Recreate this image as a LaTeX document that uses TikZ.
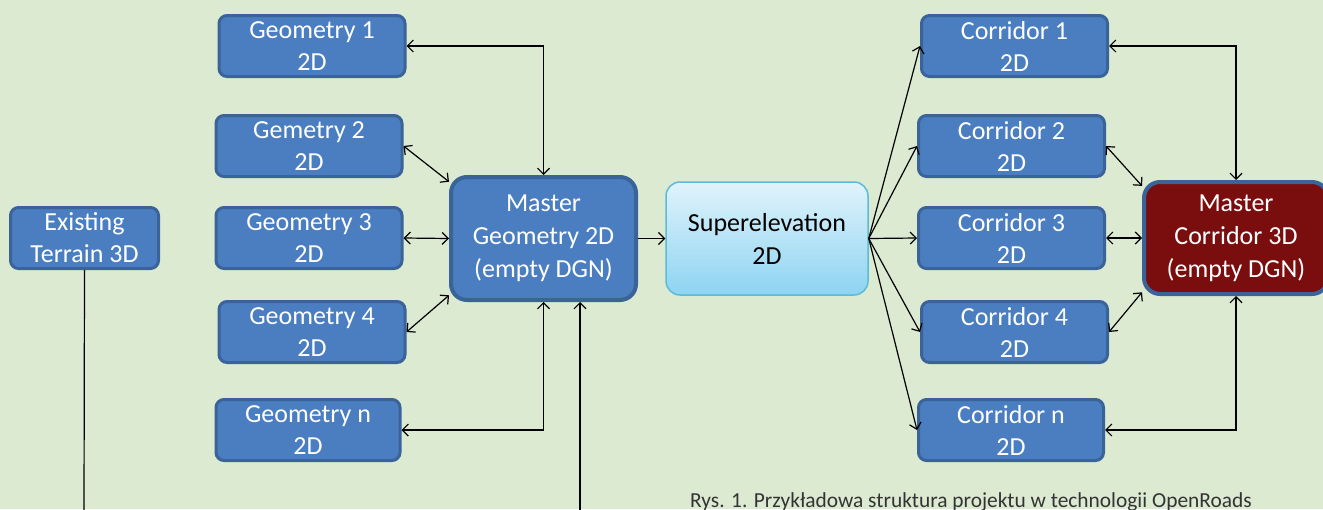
\documentclass[tikz,border=0pt]{standalone}
\usepackage{fontspec}
\setmainfont{Carlito}
\usetikzlibrary{arrows.meta,calc}
\definecolor{bgcol}{HTML}{DCEAD2}
\definecolor{boxfill}{HTML}{4A7EC0}
\definecolor{boxline}{HTML}{3A6398}
\definecolor{darkred}{HTML}{7A0E0F}
\definecolor{seline}{HTML}{5BBBD9}
\definecolor{setop}{HTML}{E0F3FB}
\definecolor{sebot}{HTML}{8DD4F1}
\definecolor{captcol}{HTML}{333333}
\tikzset{
  >={Straight Barb[length=6pt,width=12pt]},
  conn/.style={draw=black, line width=1.2pt},
  bluebox/.style={draw=boxline, line width=3pt, fill=boxfill, rounded corners=8pt,
    text=white, align=center, inner sep=0pt, font=\fontsize{26}{32}\selectfont,
    minimum width=186pt, minimum height=61pt},
  masterbox/.style={bluebox, line width=4pt, rounded corners=16pt,
    font=\fontsize{26}{33}\selectfont, minimum width=185pt, minimum height=123pt},
}
\begin{document}
\begin{tikzpicture}[x=1pt,y=-1pt]
\useasboundingbox (0,0) rectangle (1323,509);
\clip (0,0) rectangle (1323,509);
\fill[bgcol] (0,0) rectangle (1323,509);

% left column
\node[bluebox] (g1) at (312,46) {Geometry 1\\2D};
\node[bluebox] (g2) at (309,146) {Gemetry 2\\2D};
\node[bluebox] (g3) at (309,238) {Geometry 3\\2D};
\node[bluebox] (g4) at (312,332) {Geometry 4\\2D};
\node[bluebox, minimum width=184pt] (gn) at (308,430) {Geometry n\\2D};
\node[bluebox, minimum width=148pt, minimum height=61pt] (et) at (84.5,238) {Existing\\Terrain 3D};

\node[masterbox] (mg) at (543.5,238.5) {Master\\Geometry 2D\\(empty DGN)};

\node[draw=seline, line width=1.5pt, top color=setop, bottom color=sebot,
  rounded corners=14pt, align=center, inner sep=0pt, text=black,
  font=\fontsize{26}{33}\selectfont, minimum width=202pt, minimum height=113pt]
  (se) at (767,238.5) {Superelevation\\2D};

% corridors
\node[bluebox] (c1) at (1014.5,46) {Corridor 1\\2D};
\node[bluebox] (c2) at (1011.5,146) {Corridor 2\\2D};
\node[bluebox] (c3) at (1011.5,238) {Corridor 3\\2D};
\node[bluebox] (c4) at (1014.5,332) {Corridor 4\\2D};
\node[bluebox, minimum width=185pt] (cn) at (1011,430) {Corridor n\\2D};

\node[masterbox, fill=darkred, minimum width=184pt, minimum height=112pt]
  (mc) at (1236,238) {Master\\Corridor 3D\\(empty DGN)};

% free ends at the bottom edge
\coordinate (b1) at (84,512);
\coordinate (b2) at (580,512);

% connectors, geometry side
\draw[conn,<->] (g1.east) -| (mg.north);
\draw[conn,<->] (g2.east) -- (mg.149);
\draw[conn,<->] (g3.east) -- (mg.west);
\draw[conn,<->] (g4.east) -- (mg.211);
\draw[conn,<->] (gn.east) -| (mg.south);
\draw[conn] (et.south) -- (b1);
\draw[conn,->] (b2) -- (b2 |- mg.south);
\draw[conn,->] (mg.east) -- (se.west);

% superelevation to corridors
\draw[conn,->] (se.east) -- (c1.west);
\draw[conn,->] (se.east) -- (c2.west);
\draw[conn,->] (se.east) -- (c3.west);
\draw[conn,->] (se.east) -- (c4.west);
\draw[conn,->] (se.east) -- (cn.west);

% corridors to master corridor
\draw[conn,<->] (c1.east) -| (mc.north);
\draw[conn,<->] (c2.east) -- (mc.151);
\draw[conn,<->] (c3.east) -- (mc.west);
\draw[conn,<->] (c4.east) -- (mc.210);
\draw[conn,<->] (cn.east) -| (mc.south);

\node[anchor=base west, inner sep=0pt, text=captcol, font=\fontsize{21.4}{25}\selectfont]
  (cap) at (690,507) {Rys. 1. Przykładowa struktura projektu w technologii OpenRoads};
\end{tikzpicture}
\end{document}
